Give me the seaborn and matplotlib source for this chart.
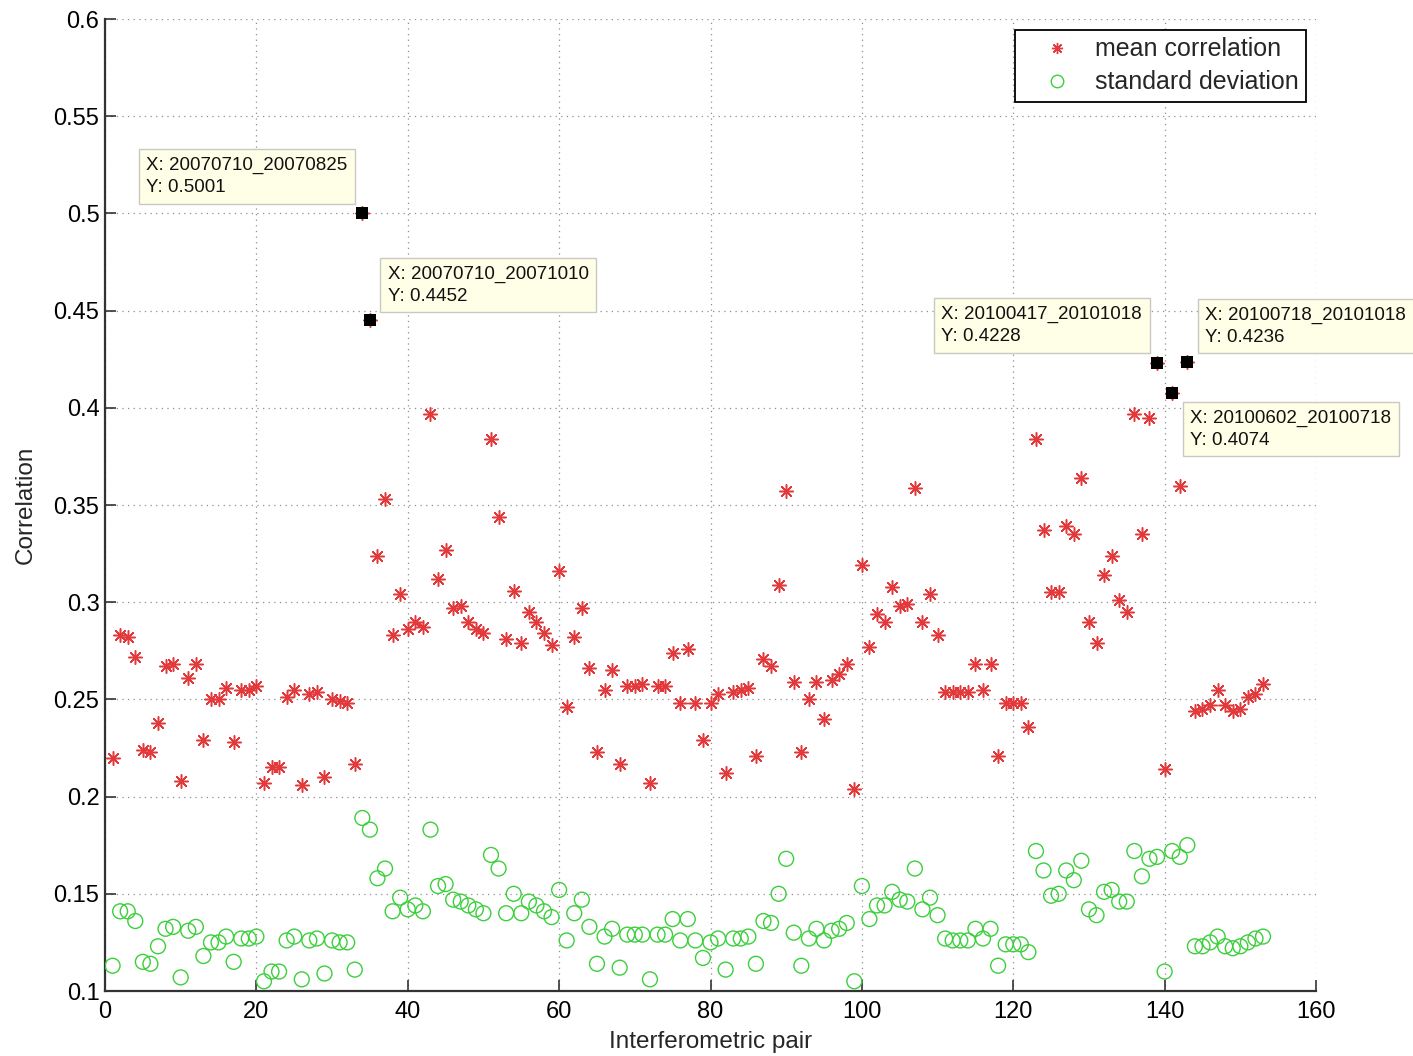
import numpy as np
import pandas as pd
import matplotlib
matplotlib.use("Agg")
import matplotlib.pyplot as plt
import seaborn as sns
from matplotlib.lines import Line2D
from matplotlib.ticker import FormatStrFormatter, MultipleLocator

# Interferometric pair index
pair_index = list(range(1, 154))

# Mean coherence of each interferometric pair
mean_corr = [
    0.220, 0.283, 0.282, 0.272, 0.224, 0.223, 0.238, 0.267, 0.268, 0.208,
    0.261, 0.268, 0.229, 0.250, 0.250, 0.256, 0.228, 0.255, 0.255, 0.257,
    0.207, 0.215, 0.215, 0.251, 0.255, 0.206, 0.253, 0.254, 0.210, 0.250,
    0.249, 0.248, 0.217, 0.5001, 0.4452, 0.324, 0.353, 0.283, 0.304, 0.286,
    0.290, 0.287, 0.397, 0.312, 0.327, 0.297, 0.298, 0.290, 0.286, 0.284,
    0.384, 0.344, 0.281, 0.306, 0.279, 0.295, 0.290, 0.284, 0.278, 0.316,
    0.246, 0.282, 0.297, 0.266, 0.223, 0.255, 0.265, 0.217, 0.257, 0.257,
    0.258, 0.207, 0.257, 0.257, 0.274, 0.248, 0.276, 0.248, 0.229, 0.248,
    0.253, 0.212, 0.254, 0.255, 0.256, 0.221, 0.271, 0.267, 0.309, 0.357,
    0.259, 0.223, 0.250, 0.259, 0.240, 0.260, 0.263, 0.268, 0.204, 0.319,
    0.277, 0.294, 0.290, 0.308, 0.298, 0.299, 0.359, 0.290, 0.304, 0.283,
    0.254, 0.254, 0.254, 0.254, 0.268, 0.255, 0.268, 0.221, 0.248, 0.248,
    0.248, 0.236, 0.384, 0.337, 0.305, 0.305, 0.339, 0.335, 0.364, 0.290,
    0.279, 0.314, 0.324, 0.301, 0.295, 0.397, 0.335, 0.395, 0.4228, 0.214,
    0.4074, 0.360, 0.4236, 0.244, 0.245, 0.247, 0.255, 0.247, 0.244, 0.245,
    0.251, 0.253, 0.258,
]

# Standard deviation of coherence of each pair
std_dev = [
    0.113, 0.141, 0.141, 0.136, 0.115, 0.114, 0.123, 0.132, 0.133, 0.107,
    0.131, 0.133, 0.118, 0.125, 0.125, 0.128, 0.115, 0.127, 0.127, 0.128,
    0.105, 0.110, 0.110, 0.126, 0.128, 0.106, 0.126, 0.127, 0.109, 0.126,
    0.125, 0.125, 0.111, 0.189, 0.183, 0.158, 0.163, 0.141, 0.148, 0.142,
    0.144, 0.141, 0.183, 0.154, 0.155, 0.147, 0.146, 0.144, 0.142, 0.140,
    0.170, 0.163, 0.140, 0.150, 0.140, 0.146, 0.144, 0.141, 0.138, 0.152,
    0.126, 0.140, 0.147, 0.133, 0.114, 0.128, 0.132, 0.112, 0.129, 0.129,
    0.129, 0.106, 0.129, 0.129, 0.137, 0.126, 0.137, 0.126, 0.117, 0.125,
    0.127, 0.111, 0.127, 0.127, 0.128, 0.114, 0.136, 0.135, 0.150, 0.168,
    0.130, 0.113, 0.127, 0.132, 0.126, 0.131, 0.132, 0.135, 0.105, 0.154,
    0.137, 0.144, 0.144, 0.151, 0.147, 0.146, 0.163, 0.142, 0.148, 0.139,
    0.127, 0.126, 0.126, 0.126, 0.132, 0.127, 0.132, 0.113, 0.124, 0.124,
    0.124, 0.120, 0.172, 0.162, 0.149, 0.150, 0.162, 0.157, 0.167, 0.142,
    0.139, 0.151, 0.152, 0.146, 0.146, 0.172, 0.159, 0.168, 0.169, 0.110,
    0.172, 0.169, 0.175, 0.123, 0.123, 0.125, 0.128, 0.123, 0.122, 0.123,
    0.125, 0.127, 0.128,
]

# Highlighted pairs (data tips) and their acquisition dates
tip_pairs = [34, 35, 139, 141, 143]
tip_dates = [
    "20070710_20070825",
    "20070710_20071010",
    "20100417_20101018",
    "20100602_20100718",
    "20100718_20101018",
]
# Placement of each data tip box relative to its point (pixels, ha, va)
tip_offsets = [(-15, 17), (18, 15), (-15, 18), (18, -16), (18, 16)]
tip_align = [("right", "bottom"), ("left", "bottom"), ("right", "bottom"),
             ("left", "top"), ("left", "bottom")]

sns.set_style("ticks")
plt.rcParams["font.family"] = ["Liberation Sans", "DejaVu Sans"]

df = pd.DataFrame({"pair": pair_index, "mean": mean_corr, "std": std_dev})
tips = df.set_index("pair").loc[tip_pairs].reset_index()

RED = "#e23a3c"
GREEN = "#3ccf3c"

fig = plt.figure(figsize=(14.13, 10.56), dpi=100)
ax = fig.add_axes([105 / 1413, 1 - 991 / 1056, 1211 / 1413, 972 / 1056])

sns.scatterplot(data=df, x="pair", y="mean", marker=(8, 2, 0), s=95,
                color=RED, linewidth=1.1, ax=ax, legend=False, zorder=3)
sns.scatterplot(data=df, x="pair", y="std", marker="o", s=115,
                color=GREEN, facecolor="none", edgecolor=GREEN,
                linewidth=1.0, ax=ax, legend=False, zorder=3)
sns.scatterplot(data=tips, x="pair", y="mean", marker="s", s=70,
                color="black", edgecolor="black", linewidth=0,
                ax=ax, legend=False, zorder=5)

for (p, v), date, off, (ha, va) in zip(tips[["pair", "mean"]].values,
                                       tip_dates, tip_offsets, tip_align):
    ax.annotate(f"X: {date}\nY: {v:.4f}", xy=(p, v), xytext=off,
                textcoords="offset pixels", ha=ha, va=va,
                multialignment="left", fontsize=13.5, color="#111111",
                linespacing=1.4, zorder=6,
                bbox=dict(boxstyle="square,pad=0.4", fc="#fffee6",
                          ec="#c9c9c2", lw=1.0))

ax.set_xlim(0, 160)
ax.set_ylim(0.1, 0.6)
ax.xaxis.set_major_locator(MultipleLocator(20))
ax.yaxis.set_major_locator(MultipleLocator(0.05))
ax.yaxis.set_major_formatter(FormatStrFormatter("%g"))

ax.grid(True, linestyle=(0, (1, 3.5)), color="#8f8f8f", linewidth=0.9)
ax.set_axisbelow(True)
sns.despine(ax=ax, top=True, right=True)
for side in ("left", "bottom"):
    ax.spines[side].set_color("#333333")
    ax.spines[side].set_linewidth(1.6)
ax.tick_params(axis="both", direction="in", length=8, width=1.2,
               colors="#333333", labelcolor="black", labelsize=17,
               left=True, bottom=True)
ax.tick_params(axis="x", pad=7)
ax.tick_params(axis="y", pad=4)

ax.set_xlabel("Interferometric pair", fontsize=17.5, labelpad=6)
ax.set_ylabel("Correlation", fontsize=17.5, labelpad=12)

handles = [
    Line2D([], [], linestyle="none", marker=(8, 2, 0), markersize=8,
           color=RED, markeredgewidth=1.0),
    Line2D([], [], linestyle="none", marker="o", markersize=9,
           markerfacecolor="none", markeredgecolor=GREEN, markeredgewidth=1.0),
]
leg = ax.legend(handles, ["mean correlation", "standard deviation"],
                loc="upper right", bbox_to_anchor=(1306 / 1413, 1 - 30 / 1056),
                bbox_transform=fig.transFigure, borderaxespad=0,
                fontsize=18, frameon=True, fancybox=False, framealpha=1,
                edgecolor="black", borderpad=0.3, labelspacing=0.35,
                handlelength=2.75, handletextpad=0.15)
leg.get_frame().set_linewidth(1.3)

fig.savefig("out.png", dpi=100, facecolor="white")
